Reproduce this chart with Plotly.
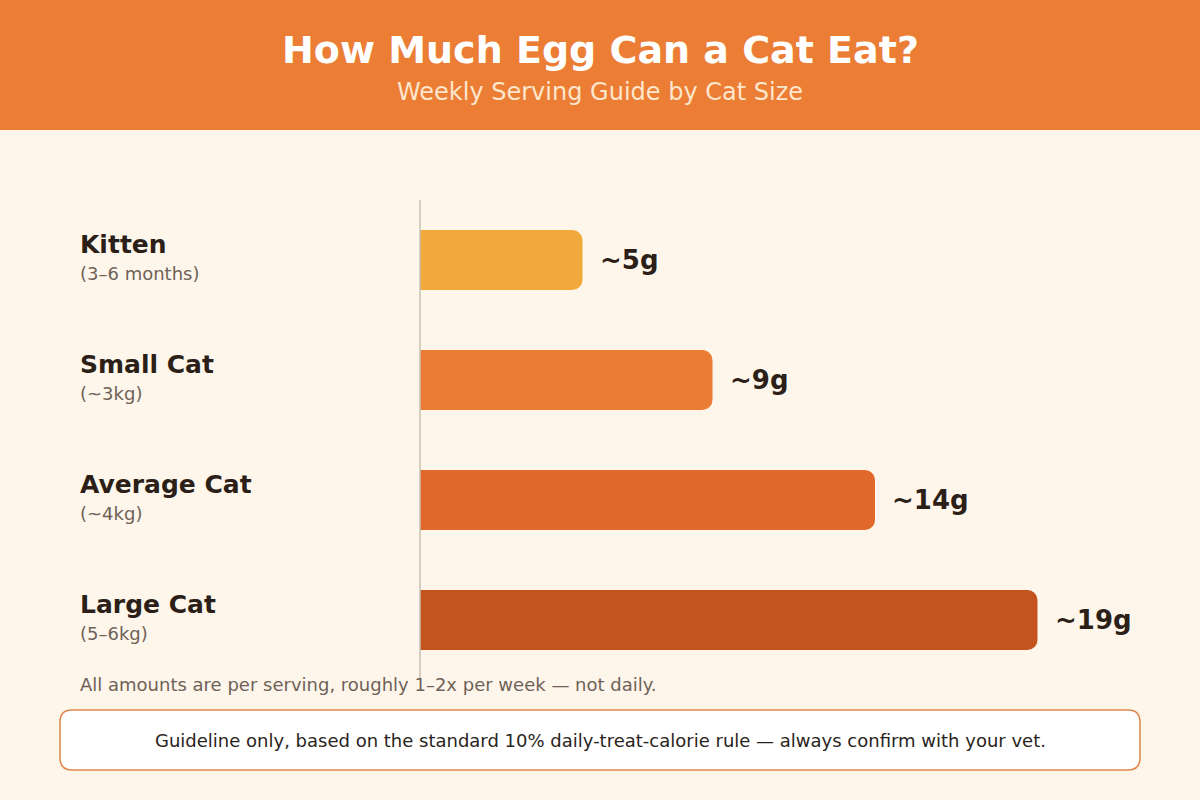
import plotly.graph_objects as go

# data
sizes = ["Kitten", "Small Cat", "Average Cat", "Large Cat"]
size_notes = ["(3–6 months)", "(~3kg)", "(~4kg)", "(5–6kg)"]
grams = [5, 9, 14, 19]
value_labels = ["~5g", "~9g", "~14g", "~19g"]
bar_colors = ["#F2A93C", "#EB7C35", "#E0682B", "#C4541D"]

W, H = 1200, 800
L, T, R, B = 420, 200, 0, 120
PW, PH = W - L - R, H - T - B
FONT = "DejaVu Sans"


def px(x):
    return (x - L) / PW


def py(y):
    return (T + PH - y) / PH


def round_rect(x0, y0, x1, y1, r):
    # rounded rectangle path in paper coords, given pixel corners
    rx, ry = r / PW, r / PH
    a0, a1 = px(x0), px(x1)
    b0, b1 = py(y1), py(y0)
    return (
        f"M {a0 + rx},{b0} L {a1 - rx},{b0} Q {a1},{b0} {a1},{b0 + ry} "
        f"L {a1},{b1 - ry} Q {a1},{b1} {a1 - rx},{b1} L {a0 + rx},{b1} "
        f"Q {a0},{b1} {a0},{b1 - ry} L {a0},{b0 + ry} Q {a0},{b0} {a0 + rx},{b0} Z"
    )


fig = go.Figure(
    go.Bar(
        x=grams,
        y=list(range(len(sizes))),
        orientation="h",
        width=0.5,
        marker=dict(color=bar_colors, line=dict(width=0)),
        hoverinfo="skip",
    )
)

ann = []
for i, (name, note, g, lab) in enumerate(zip(sizes, size_notes, grams, value_labels)):
    ann.append(dict(x=px(78), y=i, xref="paper", yref="y", text=f"<b>{name}</b>",
                    xanchor="left", yanchor="middle", yshift=16, showarrow=False,
                    font=dict(family=FONT, size=25, color="#2B1F18")))
    ann.append(dict(x=px(78), y=i, xref="paper", yref="y", text=note,
                    xanchor="left", yanchor="middle", yshift=-13, showarrow=False,
                    font=dict(family=FONT, size=18, color="#6E6258")))
    ann.append(dict(x=g, y=i, xref="x", yref="y", text=f"<b>{lab}</b>",
                    xanchor="left", yanchor="middle", xshift=15, showarrow=False,
                    font=dict(family=FONT, size=26, color="#2B1F18")))

ann += [
    dict(x=px(600), y=py(50), xref="paper", yref="paper", text="<b>How Much Egg Can a Cat Eat?</b>",
         showarrow=False, xanchor="center", yanchor="middle",
         font=dict(family=FONT, size=38, color="#FFFFFF")),
    dict(x=px(600), y=py(92), xref="paper", yref="paper", text="Weekly Serving Guide by Cat Size",
         showarrow=False, xanchor="center", yanchor="middle",
         font=dict(family=FONT, size=24, color="#FDE6CC")),
    dict(x=px(78), y=py(684), xref="paper", yref="paper",
         text="All amounts are per serving, roughly 1–2x per week — not daily.",
         showarrow=False, xanchor="left", yanchor="middle",
         font=dict(family=FONT, size=18, color="#6E6258")),
    dict(x=px(600), y=py(740), xref="paper", yref="paper",
         text="Guideline only, based on the standard 10% daily-treat-calorie rule — always confirm with your vet.",
         showarrow=False, xanchor="center", yanchor="middle",
         font=dict(family=FONT, size=18, color="#2A2420")),
]

shapes = [
    dict(type="rect", xref="paper", yref="paper", x0=px(0), x1=px(W), y0=py(130), y1=py(0),
         fillcolor="#EB7D35", line=dict(width=0), layer="below"),
    dict(type="line", xref="paper", yref="paper", x0=0, x1=0, y0=py(678), y1=py(200),
         line=dict(color="#C9BFB3", width=1.5)),
    dict(type="path", xref="paper", yref="paper", path=round_rect(60, 710, 1140, 770, 12),
         fillcolor="#FFFFFF", line=dict(color="#E0874A", width=1.5)),
]

fig.update_layout(
    width=W, height=H,
    margin=dict(l=L, r=R, t=T, b=B),
    paper_bgcolor="#FEF6EB", plot_bgcolor="#FEF6EB",
    barcornerradius=10,
    showlegend=False,
    xaxis=dict(range=[0, PW / 32.5], visible=False, fixedrange=True),
    yaxis=dict(range=[3.5, -0.5], visible=False, fixedrange=True),
    annotations=ann,
    shapes=shapes,
)

fig.write_html("out.html", config={"displayModeBar": False},
               post_script="document.body.style.margin='0';")
